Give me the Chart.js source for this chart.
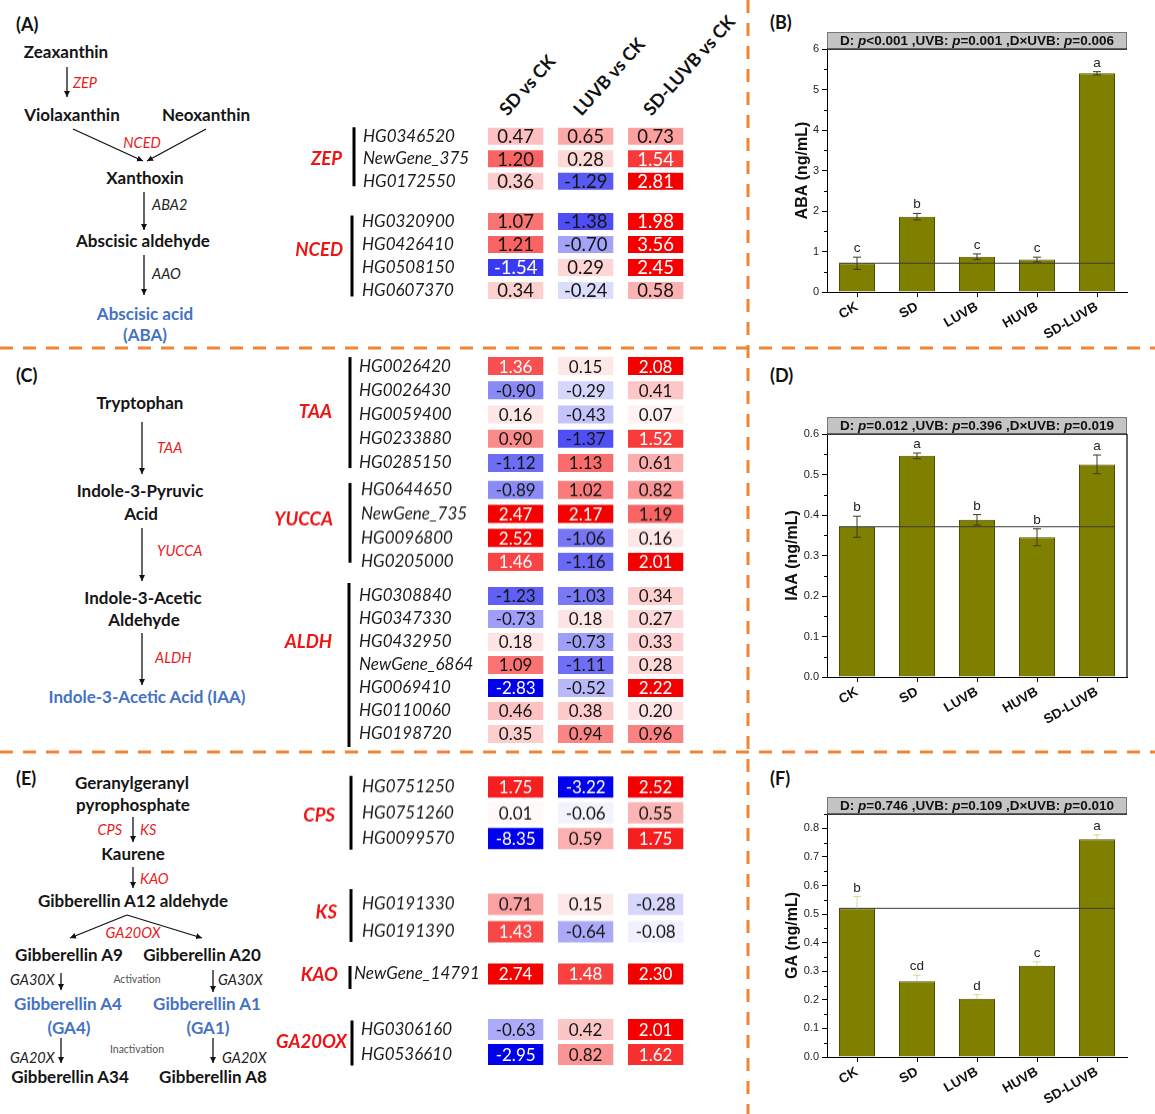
<!DOCTYPE html>
<html>
<head>
<meta charset="utf-8">
<script src="https://cdn.jsdelivr.net/npm/chart.js@4.4.1/dist/chart.umd.min.js"></script>
<style>
  body { margin: 0; background: #fff; }
  #page { position: relative; width: 1155px; height: 1114px; overflow: hidden; font-family: Lato, "Open Sans", sans-serif; }
  .cv { position: absolute; }
  .cv canvas { display: block; }
  .n { position: absolute; transform: translate(-50%, -50%); white-space: nowrap; font-weight: bold; font-size: 17px; color: #151515; }
  .blue { color: #4472c4; }
  .e { position: absolute; transform: translateY(-50%); white-space: nowrap; font-style: italic; font-size: 14.5px; color: #e81c1c; }
  .e.k { color: #222; }
  .e.c { transform: translate(-50%, -50%); }
  .e.r { transform: translate(-100%, -50%); }
  .s { position: absolute; transform: translate(-50%, -50%); font-size: 10.5px; color: #555; white-space: nowrap; }
  .p { position: absolute; transform: translateY(-50%); font-weight: bold; font-size: 18px; color: #111; }
  .ch { position: absolute; font-weight: bold; font-size: 18px; line-height: 18px; white-space: nowrap; color: #111;
        transform-origin: 0 100%; transform: rotate(-48deg); }
  svg { position: absolute; left: 0; top: 0; }
</style>
</head>
<body>
<div id="page">
  <svg width="1155" height="1114">
    <defs>
      <marker id="ah" markerUnits="userSpaceOnUse" markerWidth="7" markerHeight="7" refX="6" refY="3" orient="auto">
        <path d="M0,0 L6,3 L0,6 z" fill="#111"/>
      </marker>
    </defs>
    <g stroke="#ef8535" stroke-width="3" stroke-dasharray="13 10">
      <line x1="0" y1="348" x2="1155" y2="348"/>
      <line x1="0" y1="752" x2="1155" y2="752"/>
      <line x1="748" y1="0" x2="748" y2="1114"/>
    </g>
    <g stroke="#111" stroke-width="1.3" marker-end="url(#ah)">
      <line x1="67" y1="67" x2="67" y2="97"/>
      <line x1="73" y1="129" x2="143" y2="161"/>
      <line x1="206" y1="129" x2="147" y2="161"/>
      <line x1="144" y1="192" x2="144" y2="230"/>
      <line x1="144" y1="255" x2="144" y2="295"/>
      <line x1="142" y1="422" x2="142" y2="474"/>
      <line x1="142" y1="528" x2="142" y2="581"/>
      <line x1="142" y1="633" x2="142" y2="685"/>
      <line x1="133" y1="817" x2="133" y2="842"/>
      <line x1="133" y1="867" x2="133" y2="888"/>
      <line x1="127" y1="915" x2="70" y2="938"/>
      <line x1="127" y1="915" x2="202" y2="938"/>
      <line x1="61" y1="973" x2="61" y2="990"/>
      <line x1="213" y1="970" x2="213" y2="992"/>
      <line x1="61" y1="1038" x2="61" y2="1063"/>
      <line x1="213" y1="1038" x2="213" y2="1063"/>
    </g>
  </svg>

  <!-- (A) ABA pathway -->
  <div class="p" style="left:16px;top:24px">(A)</div>
  <div class="n" style="left:66px;top:51px">Zeaxanthin</div>
  <div class="e" style="left:73px;top:82px">ZEP</div>
  <div class="n" style="left:72px;top:114px">Violaxanthin</div>
  <div class="n" style="left:206px;top:114px">Neoxanthin</div>
  <div class="e c" style="left:142px;top:142px">NCED</div>
  <div class="n" style="left:145px;top:177px">Xanthoxin</div>
  <div class="e k" style="left:152px;top:204px">ABA2</div>
  <div class="n" style="left:143px;top:240px">Abscisic aldehyde</div>
  <div class="e k" style="left:152px;top:273px">AAO</div>
  <div class="n blue" style="left:145px;top:313px">Abscisic acid</div>
  <div class="n blue" style="left:145px;top:334px">(ABA)</div>

  <div class="ch" style="left:509px;top:100px">SD vs CK</div>
  <div class="ch" style="left:583px;top:100px">LUVB vs CK</div>
  <div class="ch" style="left:653px;top:100px">SD-LUVB vs CK</div>

  <!-- (C) IAA pathway -->
  <div class="p" style="left:16px;top:375px">(C)</div>
  <div class="n" style="left:140px;top:402px">Tryptophan</div>
  <div class="e" style="left:157px;top:447px">TAA</div>
  <div class="n" style="left:140px;top:490px">Indole-3-Pyruvic</div>
  <div class="n" style="left:141px;top:513px">Acid</div>
  <div class="e" style="left:157px;top:550px">YUCCA</div>
  <div class="n" style="left:143px;top:597px">Indole-3-Acetic</div>
  <div class="n" style="left:144px;top:619px">Aldehyde</div>
  <div class="e" style="left:155px;top:657px">ALDH</div>
  <div class="n blue" style="left:147px;top:696px">Indole-3-Acetic Acid (IAA)</div>

  <!-- (E) GA pathway -->
  <div class="p" style="left:16px;top:778px">(E)</div>
  <div class="n" style="left:132px;top:782px">Geranylgeranyl</div>
  <div class="n" style="left:133px;top:804px">pyrophosphate</div>
  <div class="e r" style="left:122px;top:829px">CPS</div>
  <div class="e" style="left:140px;top:829px">KS</div>
  <div class="n" style="left:133px;top:853px">Kaurene</div>
  <div class="e" style="left:140px;top:878px">KAO</div>
  <div class="n" style="left:133px;top:900px">Gibberellin A12 aldehyde</div>
  <div class="e c" style="left:133px;top:932px">GA20OX</div>
  <div class="n" style="left:69px;top:954px">Gibberellin A9</div>
  <div class="n" style="left:202px;top:954px">Gibberellin A20</div>
  <div class="e k" style="left:10px;top:979px">GA30X</div>
  <div class="s" style="left:137px;top:979px">Activation</div>
  <div class="e k" style="left:218px;top:979px">GA30X</div>
  <div class="n blue" style="left:68px;top:1003px">Gibberellin A4</div>
  <div class="n blue" style="left:69px;top:1027px">(GA4)</div>
  <div class="n blue" style="left:207px;top:1003px">Gibberellin A1</div>
  <div class="n blue" style="left:208px;top:1027px">(GA1)</div>
  <div class="e k" style="left:10px;top:1057px">GA20X</div>
  <div class="s" style="left:137px;top:1049px">Inactivation</div>
  <div class="e k" style="left:222px;top:1057px">GA20X</div>
  <div class="n" style="left:70px;top:1076px">Gibberellin A34</div>
  <div class="n" style="left:213px;top:1076px">Gibberellin A8</div>

  <!-- hormone panels -->
  <div class="p" style="left:770px;top:22px">(B)</div>
  <div class="p" style="left:770px;top:375px">(D)</div>
  <div class="p" style="left:770px;top:778px">(F)</div>
  <div class="cv" style="left:750px;top:0px;width:405px;height:345px"><canvas id="chartB"></canvas></div>
  <div class="cv" style="left:750px;top:360px;width:405px;height:380px"><canvas id="chartD"></canvas></div>
  <div class="cv" style="left:750px;top:755px;width:405px;height:355px"><canvas id="chartF"></canvas></div>
</div>

<script>
// ── Treatments ──
const treatments = ['CK', 'SD', 'LUVB', 'HUVB', 'SD-LUVB'];

// ── Hormone contents (ng/mL) ──
const abaMean    = [0.71, 1.86, 0.87, 0.80, 5.40];
const abaErr     = [0.15, 0.08, 0.07, 0.06, 0.04];
const abaLetters = ['c', 'b', 'c', 'c', 'a'];
const abaTicks   = [0, 1, 2, 3, 4, 5, 6];

const iaaMean    = [0.371, 0.546, 0.388, 0.345, 0.525];
const iaaErr     = [0.026, 0.007, 0.013, 0.021, 0.023];
const iaaLetters = ['b', 'a', 'b', 'b', 'a'];
const iaaTicks   = [0, 0.1, 0.2, 0.3, 0.4, 0.5, 0.6];

const gaMean     = [0.520, 0.265, 0.204, 0.319, 0.762];
const gaErr      = [0.041, 0.021, 0.014, 0.014, 0.015];
const gaLetters  = ['b', 'cd', 'd', 'c', 'a'];
const gaTicks    = [0, 0.1, 0.2, 0.3, 0.4, 0.5, 0.6, 0.7, 0.8];

// ── Gene expression (log2 fold change): SD vs CK, LUVB vs CK, SD-LUVB vs CK ──
const zepGenes  = ['HG0346520', 'NewGene_375', 'HG0172550'];
const zepSD     = [0.47, 1.20, 0.36];
const zepLUVB   = [0.65, 0.28, -1.29];
const zepSDLUVB = [0.73, 1.54, 2.81];

const ncedGenes  = ['HG0320900', 'HG0426410', 'HG0508150', 'HG0607370'];
const ncedSD     = [1.07, 1.21, -1.54, 0.34];
const ncedLUVB   = [-1.38, -0.70, 0.29, -0.24];
const ncedSDLUVB = [1.98, 3.56, 2.45, 0.58];

const taaGenes  = ['HG0026420', 'HG0026430', 'HG0059400', 'HG0233880', 'HG0285150'];
const taaSD     = [1.36, -0.90, 0.16, 0.90, -1.12];
const taaLUVB   = [0.15, -0.29, -0.43, -1.37, 1.13];
const taaSDLUVB = [2.08, 0.41, 0.07, 1.52, 0.61];

const yuccaGenes  = ['HG0644650', 'NewGene_735', 'HG0096800', 'HG0205000'];
const yuccaSD     = [-0.89, 2.47, 2.52, 1.46];
const yuccaLUVB   = [1.02, 2.17, -1.06, -1.16];
const yuccaSDLUVB = [0.82, 1.19, 0.16, 2.01];

const aldhGenes  = ['HG0308840', 'HG0347330', 'HG0432950', 'NewGene_6864', 'HG0069410', 'HG0110060', 'HG0198720'];
const aldhSD     = [-1.23, -0.73, 0.18, 1.09, -2.83, 0.46, 0.35];
const aldhLUVB   = [-1.03, 0.18, -0.73, -1.11, -0.52, 0.38, 0.94];
const aldhSDLUVB = [0.34, 0.27, 0.33, 0.28, 2.22, 0.20, 0.96];

const cpsGenes  = ['HG0751250', 'HG0751260', 'HG0099570'];
const cpsSD     = [1.75, 0.01, -8.35];
const cpsLUVB   = [-3.22, -0.06, 0.59];
const cpsSDLUVB = [2.52, 0.55, 1.75];

const ksGenes  = ['HG0191330', 'HG0191390'];
const ksSD     = [0.71, 1.43];
const ksLUVB   = [0.15, -0.64];
const ksSDLUVB = [-0.28, -0.08];

const kaoGenes  = ['NewGene_14791'];
const kaoSD     = [2.74];
const kaoLUVB   = [1.48];
const kaoSDLUVB = [2.30];

const ga20Genes  = ['HG0306160', 'HG0536610'];
const ga20SD     = [-0.63, -2.95];
const ga20LUVB   = [0.42, 0.82];
const ga20SDLUVB = [2.01, 1.62];

Chart.defaults.font.family = '"Liberation Sans", Arial, sans-serif';
Chart.defaults.animation = false;

// ── Heatmap colour: white -> red / white -> blue, saturating at |2| ──
function heatColor(v) {
  const t = Math.min(Math.abs(v) / 2, 1);
  const k = Math.round(250 * (1 - t));
  if (v >= 0) return 'rgb(' + Math.round(255 - 10 * t) + ',' + k + ',' + k + ')';
  return 'rgb(' + k + ',' + k + ',' + Math.round(255 - 18 * t) + ')';
}

// ── Heatmap plugin: cell values, group name, bracket ──
const heatPlugin = {
  id: 'heat',
  afterDatasetsDraw(chart, args, o) {
    const ctx = chart.ctx;
    ctx.save();
    ctx.textAlign = 'center';
    ctx.textBaseline = 'middle';
    ctx.font = o.valueFont;
    chart.data.datasets.forEach(function(ds, j) {
      chart.getDatasetMeta(j).data.forEach(function(el, i) {
        const v = ds.vals[i];
        ctx.fillStyle = (v > 1.3 || v < -1.4) ? '#ffffff' : '#151515';
        ctx.fillText(v.toFixed(2), (el.x + el.base) / 2, el.y + 1);
      });
    });
    ctx.fillStyle = '#ee1414';
    ctx.font = 'italic bold 18.5px Lato';
    ctx.textAlign = 'right';
    ctx.fillText(o.name, o.nameX, o.nameY);
    ctx.strokeStyle = '#000';
    ctx.lineWidth = 3;
    ctx.beginPath();
    ctx.moveTo(o.barX, o.barTop);
    ctx.lineTo(o.barX, o.barBot);
    ctx.stroke();
    ctx.restore();
  }
};

const CL = 258, CR = 695, AREA_L = 481, AREA_R = 691;

function heatGroup(name, genes, sd, luvb, sdluvb, g) {
  const rowTop = g.first - g.pitch / 2;
  const rowBot = rowTop + genes.length * g.pitch;
  const top = Math.min(g.barTop, rowTop) - 4;
  const bot = Math.max(g.barBot, rowBot) + 4;

  const wrap = document.createElement('div');
  wrap.className = 'cv';
  wrap.style.cssText = 'left:' + CL + 'px;top:' + top + 'px;width:' + (CR - CL) + 'px;height:' + (bot - top) + 'px';
  const cv = document.createElement('canvas');
  wrap.appendChild(cv);
  document.getElementById('page').appendChild(wrap);

  const cols = [sd, luvb, sdluvb];
  new Chart(cv, {
    type: 'bar',
    data: {
      labels: genes,
      datasets: cols.map(function(vals, j) {
        return {
          vals: vals,
          data: vals.map(function() { return [j + 0.1, j + 0.89]; }),
          backgroundColor: vals.map(heatColor),
          grouped: false,
          barPercentage: g.cellH / g.pitch,
          categoryPercentage: 1,
          borderWidth: 0,
        };
      }),
    },
    options: {
      indexAxis: 'y',
      responsive: true,
      maintainAspectRatio: false,
      layout: { padding: { left: g.labelX - CL, right: CR - AREA_R, top: rowTop - top, bottom: bot - rowBot } },
      plugins: {
        legend: { display: false },
        tooltip: { enabled: false },
        heat: {
          name: name,
          valueFont: g.font,
          nameX: g.nameRight - CL,
          nameY: g.nameY - top,
          barX: g.barX - CL,
          barTop: g.barTop - top,
          barBot: g.barBot - top,
        },
      },
      scales: {
        x: { type: 'linear', min: 0, max: 3, display: false },
        y: {
          type: 'category',
          grid: { display: false },
          border: { display: false },
          ticks: { crossAlign: 'far', padding: 0, autoSkip: false, color: '#1c1c1c',
                   font: { family: 'Lato', size: 17, style: 'italic' } },
          afterFit: function(s) { s.width = AREA_L - g.labelX; s.paddingTop = 0; s.paddingBottom = 0; },
        },
      },
    },
    plugins: [heatPlugin],
  });
}

heatGroup('ZEP',   zepGenes,   zepSD,   zepLUVB,   zepSDLUVB,   { first: 136, pitch: 22.5, cellH: 17, font: '18.5px Lato', labelX: 363, barX: 354, barTop: 127, barBot: 186, nameRight: 342, nameY: 159 });
heatGroup('NCED',  ncedGenes,  ncedSD,  ncedLUVB,  ncedSDLUVB,  { first: 221, pitch: 23,   cellH: 17, font: '18.5px Lato', labelX: 362, barX: 352, barTop: 215, barBot: 296, nameRight: 343, nameY: 250 });
heatGroup('TAA',   taaGenes,   taaSD,   taaLUVB,   taaSDLUVB,   { first: 366, pitch: 24.2, cellH: 18, font: '17px Lato',   labelX: 359, barX: 350, barTop: 357, barBot: 468, nameRight: 332, nameY: 412 });
heatGroup('YUCCA', yuccaGenes, yuccaSD, yuccaLUVB, yuccaSDLUVB, { first: 490, pitch: 23.7, cellH: 18, font: '17px Lato',   labelX: 361, barX: 350, barTop: 483, barBot: 562, nameRight: 333, nameY: 519 });
heatGroup('ALDH',  aldhGenes,  aldhSD,  aldhLUVB,  aldhSDLUVB,  { first: 596, pitch: 23,   cellH: 18, font: '17px Lato',   labelX: 359, barX: 349, barTop: 583, barBot: 747, nameRight: 332, nameY: 642 });
heatGroup('CPS',   cpsGenes,   cpsSD,   cpsLUVB,   cpsSDLUVB,   { first: 787, pitch: 25.5, cellH: 21, font: '17px Lato',   labelX: 362, barX: 351, barTop: 776, barBot: 849, nameRight: 335, nameY: 815 });
heatGroup('KS',    ksGenes,    ksSD,    ksLUVB,    ksSDLUVB,    { first: 904, pitch: 27,   cellH: 21, font: '17px Lato',   labelX: 362, barX: 351, barTop: 889, barBot: 941, nameRight: 337, nameY: 912 });
heatGroup('KAO',   kaoGenes,   kaoSD,   kaoLUVB,   kaoSDLUVB,   { first: 974, pitch: 26,   cellH: 21, font: '17px Lato',   labelX: 354, barX: 350, barTop: 966, barBot: 989, nameRight: 338, nameY: 975 });
heatGroup('GA20OX',ga20Genes,  ga20SD,  ga20LUVB,  ga20SDLUVB,  { first: 1029, pitch: 25,  cellH: 21, font: '17px Lato',   labelX: 361, barX: 352, barTop: 1020, barBot: 1065, nameRight: 347, nameY: 1042 });

// ── Bar panel plugin: CK reference line, error bars, letters, header, frame, minor ticks ──
const hormonePlugin = {
  id: 'hormone',
  afterDatasetsDraw(chart, args, o) {
    const ctx = chart.ctx, y = chart.scales.y;
    const ds = chart.data.datasets[0];
    const bars = chart.getDatasetMeta(0).data;
    const last = bars[bars.length - 1];
    ctx.save();
    const yRef = y.getPixelForValue(ds.data[0]);
    ctx.strokeStyle = '#3a3a3a';
    ctx.lineWidth = 1;
    ctx.beginPath();
    ctx.moveTo(bars[0].x - bars[0].width / 2, yRef);
    ctx.lineTo(last.x + last.width / 2, yRef);
    ctx.stroke();

    ctx.font = '13.5px "Liberation Sans"';
    ctx.textAlign = 'center';
    ctx.textBaseline = 'bottom';
    bars.forEach(function(b, i) {
      const top = y.getPixelForValue(ds.data[i] + ds.errs[i]);
      const low = o.upperOnly ? b.y : y.getPixelForValue(ds.data[i] - ds.errs[i]);
      ctx.strokeStyle = o.errColor;
      ctx.beginPath();
      ctx.moveTo(b.x, low); ctx.lineTo(b.x, top);
      ctx.moveTo(b.x - 4, top); ctx.lineTo(b.x + 4, top);
      if (!o.upperOnly) { ctx.moveTo(b.x - 4, low); ctx.lineTo(b.x + 4, low); }
      ctx.stroke();
      ctx.fillStyle = '#222';
      ctx.fillText(ds.letters[i], b.x, top - 2);
    });
    ctx.restore();
  },
  afterDraw(chart, args, o) {
    const ctx = chart.ctx, a = chart.chartArea, y = chart.scales.y;
    ctx.save();
    // minor ticks
    ctx.strokeStyle = '#000';
    ctx.lineWidth = 1;
    const n = Math.round((y.max - y.min) / o.minor);
    ctx.beginPath();
    for (let k = 1; k <= n; k += 2) {
      const py = Math.round(y.getPixelForValue(y.min + k * o.minor)) + 0.5;
      ctx.moveTo(a.left, py); ctx.lineTo(a.left - 3, py);
    }
    ctx.stroke();
    // header box
    ctx.fillStyle = '#c4c4c4';
    ctx.fillRect(a.left, a.top - 17, a.right - a.left, 17);
    ctx.strokeStyle = '#777';
    ctx.strokeRect(a.left + 0.5, a.top - 16.5, a.right - a.left - 1, 17);
    ctx.strokeStyle = '#000';
    ctx.lineWidth = 1.2;
    ctx.beginPath();
    ctx.moveTo(a.left, a.top); ctx.lineTo(a.right, a.top);
    if (o.rightLine) { ctx.moveTo(a.right, a.top); ctx.lineTo(a.right, a.bottom); }
    ctx.stroke();
    // header text, italic p
    const parts = o.header.split('*');
    const fonts = parts.map(function(p, i) {
      return (i % 2 ? 'italic ' : '') + 'bold 13.5px "Liberation Sans"';
    });
    let total = 0;
    parts.forEach(function(p, i) { ctx.font = fonts[i]; total += ctx.measureText(p).width; });
    let x = (a.left + a.right) / 2 - total / 2;
    ctx.fillStyle = '#111';
    ctx.textAlign = 'left';
    ctx.textBaseline = 'middle';
    parts.forEach(function(p, i) {
      ctx.font = fonts[i];
      ctx.fillText(p, x, a.top - 8);
      x += ctx.measureText(p).width;
    });
    ctx.restore();
  }
};

function hormoneChart(id, opt) {
  new Chart(document.getElementById(id), {
    type: 'bar',
    data: {
      labels: treatments,
      datasets: [{
        data: opt.mean,
        errs: opt.err,
        letters: opt.letters,
        backgroundColor: '#808000',
        borderColor: '#4e4e00',
        borderWidth: 1,
        barPercentage: 0.6,
        categoryPercentage: 1,
      }],
    },
    options: {
      responsive: true,
      maintainAspectRatio: false,
      layout: { padding: { left: opt.padLeft, top: opt.top, right: 28, bottom: 0 } },
      plugins: {
        legend: { display: false },
        tooltip: { enabled: false },
        hormone: { header: opt.header, minor: opt.minor, errColor: opt.errColor, upperOnly: opt.upperOnly, rightLine: opt.rightLine },
      },
      scales: {
        x: {
          grid: { offset: false, drawOnChartArea: false, tickLength: 5, color: '#000' },
          border: { color: '#000', width: 1 },
          ticks: { maxRotation: 30, minRotation: 30, autoSkip: false, padding: 2, color: '#111',
                   font: { size: 13.5, weight: 'bold' } },
          afterFit: function(s) { s.height = opt.xHeight; s.paddingLeft = 0; s.paddingRight = 0; },
        },
        y: {
          min: 0,
          max: opt.max,
          afterBuildTicks: function(s) { s.ticks = opt.ticks.map(function(v) { return { value: v }; }); },
          ticks: { padding: 3, color: '#222', font: { size: 11 },
                   callback: function(v) { return v.toFixed(opt.dec); } },
          grid: { drawOnChartArea: false, tickLength: 5, color: '#000' },
          border: { color: '#000', width: 1 },
          title: { display: true, text: opt.title, color: '#111', font: { size: 16, weight: 'bold' }, padding: { top: 3, bottom: 0 } },
          afterFit: function(s) { s.width = 77 - opt.padLeft; s.paddingTop = 0; s.paddingBottom = 0; },
        },
      },
    },
    plugins: [hormonePlugin],
  });
}

hormoneChart('chartB', {
  mean: abaMean, err: abaErr, letters: abaLetters, ticks: abaTicks, max: 6, dec: 0, minor: 0.5,
  title: 'ABA (ng/mL)', header: 'D: *p*<0.001 ,UVB: *p*=0.001 ,D×UVB: *p*=0.006',
  padLeft: 40, top: 49, xHeight: 53, errColor: '#3a3a20', upperOnly: false, rightLine: false,
});
hormoneChart('chartD', {
  mean: iaaMean, err: iaaErr, letters: iaaLetters, ticks: iaaTicks, max: 0.6, dec: 1, minor: 0.05,
  title: 'IAA (ng/mL)', header: 'D: *p*=0.012 ,UVB: *p*=0.396 ,D×UVB: *p*=0.019',
  padLeft: 30, top: 74, xHeight: 63, errColor: '#3a3a20', upperOnly: false, rightLine: true,
});
hormoneChart('chartF', {
  mean: gaMean, err: gaErr, letters: gaLetters, ticks: gaTicks, max: 0.85, dec: 1, minor: 0.05,
  title: 'GA (ng/mL)', header: 'D: *p*=0.746 ,UVB: *p*=0.109 ,D×UVB: *p*=0.010',
  padLeft: 30, top: 59, xHeight: 53, errColor: '#d8d890', upperOnly: true, rightLine: false,
});
</script>
</body>
</html>
